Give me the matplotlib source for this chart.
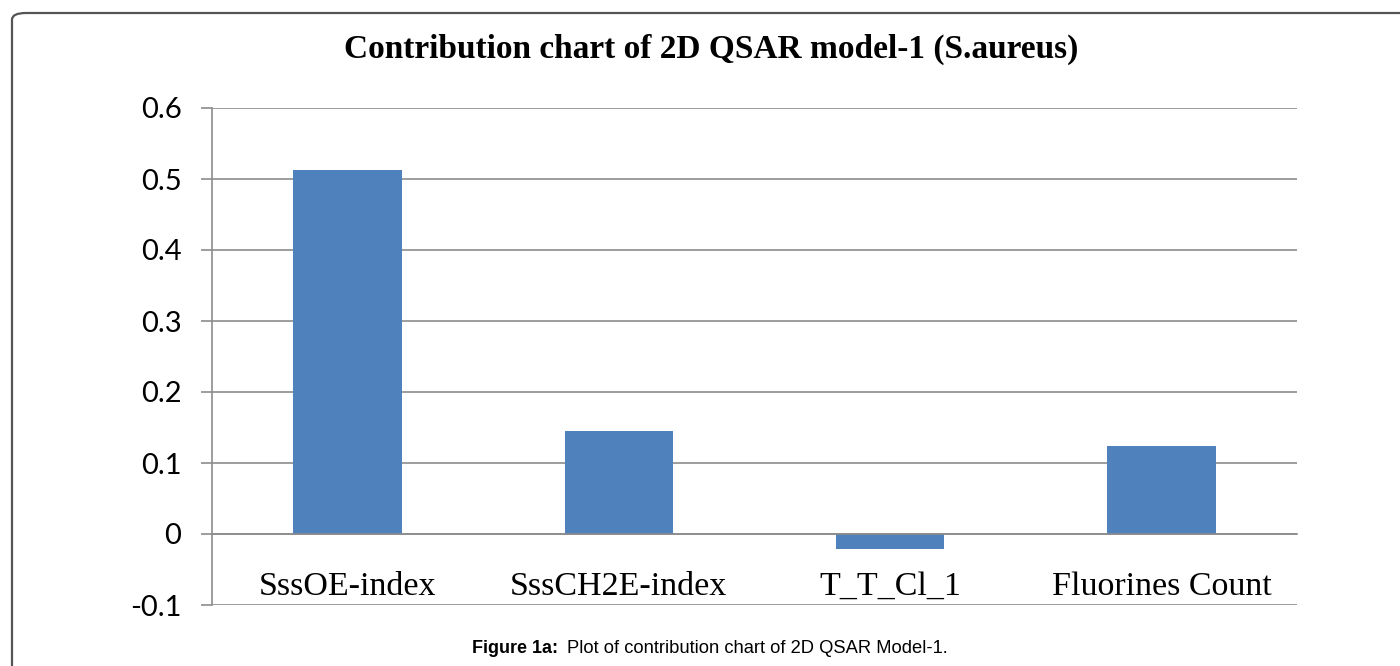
import matplotlib.pyplot as plt
from matplotlib.patches import FancyBboxPatch

# データ
categories = ['SssOE-index', 'SssCH2E-index', 'T_T_Cl_1', 'Fluorines Count']
contributions = [0.512, 0.145, -0.021, 0.124]
y_ticks = [-0.1, 0, 0.1, 0.2, 0.3, 0.4, 0.5, 0.6]
y_tick_labels = ['-0.1', '0', '0.1', '0.2', '0.3', '0.4', '0.5', '0.6']

fig = plt.figure(figsize=(14, 6.66), dpi=100)

# 外枠 (角丸)
frame = FancyBboxPatch((12 / 1400, -1.0), 1.2, 1.0 + 1 - 13 / 666,
                       boxstyle='round,pad=0,rounding_size=0.01',
                       transform=fig.transFigure, fill=False,
                       edgecolor='#555555', linewidth=1.6)
fig.patches.append(frame)

ax = fig.add_axes([212 / 1400, 1 - 605 / 666, (1297 - 212) / 1400, (605 - 108) / 666])
ax.bar(range(len(categories)), contributions, width=0.4, color='#4F81BD', zorder=2)

# 横軸を0の位置へ
ax.spines['bottom'].set_position(('data', 0))
ax.spines['bottom'].set_color('#8c8c8c')
ax.spines['bottom'].set_linewidth(1.2)
ax.spines['left'].set_color('#8c8c8c')
ax.spines['left'].set_linewidth(1.2)
ax.spines['top'].set_visible(False)
ax.spines['right'].set_visible(False)

ax.set_xlim(-0.5, len(categories) - 0.5)
ax.set_ylim(-0.1, 0.6)
ax.set_yticks(y_ticks)
ax.set_yticklabels(y_tick_labels, fontfamily='Lato', fontsize=21)
ax.yaxis.grid(True, color='#8c8c8c', linewidth=1.2, zorder=0)
ax.set_axisbelow(True)
ax.tick_params(axis='y', length=8, color='#8c8c8c', width=1.2, pad=14)

ax.set_xticks(range(len(categories)))
ax.set_xticklabels(categories, fontfamily='Liberation Serif', fontsize=24.5)
ax.tick_params(axis='x', length=0, pad=27)

fig.text(711 / 1400, 1 - 49 / 666, 'Contribution chart of 2D QSAR model-1 (S.aureus)',
         ha='center', va='center', fontfamily='Liberation Serif',
         fontweight='bold', fontsize=24)

# キャプション (太字部分と通常部分)
cap_y = 1 - 653 / 666
fig.text(472 / 1400, cap_y, 'Figure 1a:', ha='left', va='baseline',
         fontfamily='Liberation Sans', fontweight='bold', fontsize=13)
fig.text(567 / 1400, cap_y, 'Plot of contribution chart of 2D QSAR Model-1.',
         ha='left', va='baseline', fontfamily='Liberation Sans', fontsize=13.2)

fig.savefig('out.png', dpi=100)
